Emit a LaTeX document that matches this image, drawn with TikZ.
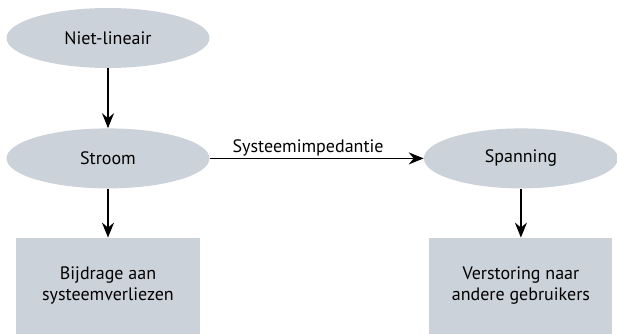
\documentclass[tikz,border=0pt]{standalone}
\usepackage{fontspec}
\setmainfont{PT Sans}
\usepackage{xcolor}
\usepackage{tikz}
\usetikzlibrary{positioning,arrows.meta,shapes.geometric}
\definecolor{vlakgrijs}{RGB}{204,210,217}
\tikzset{every node/.style={font=\fontsize{18}{21}\selectfont}}

\begin{document}
\begin{tikzpicture}[x=1pt, y=1pt, >={Stealth[length=15pt, width=12pt, inset=5pt]},
  oval/.style={ellipse, fill=vlakgrijs, minimum width=203pt, minimum height=60pt, inner sep=0pt},
  blok/.style={rectangle, fill=vlakgrijs, align=center, minimum width=183pt, minimum height=96pt, inner sep=0pt}]

\useasboundingbox (-108,38) rectangle (509,-296);

\node[oval] (niet) {Niet-lineair};
\node[oval, below=60pt of niet] (stroom) {Stroom};
\node[oval, right=214pt of stroom, minimum width=194pt] (spanning) {Spanning};
\node[blok, below=49pt of stroom] (bijdrage) {Bijdrage aan\\systeemverliezen};
\node[blok, below=49pt of spanning] (verstoring) {Verstoring naar\\andere gebruikers};

\draw[->, line width=1.4pt] (niet) -- (stroom);
\draw[->, line width=1.4pt] (stroom) -- node[above, pos=0.46, inner sep=2pt] (imp) {Systeemimpedantie} (spanning);
\draw[->, line width=1.4pt] (stroom) -- (bijdrage);
\draw[->, line width=1.4pt] (spanning) -- (verstoring);

\end{tikzpicture}
\end{document}
